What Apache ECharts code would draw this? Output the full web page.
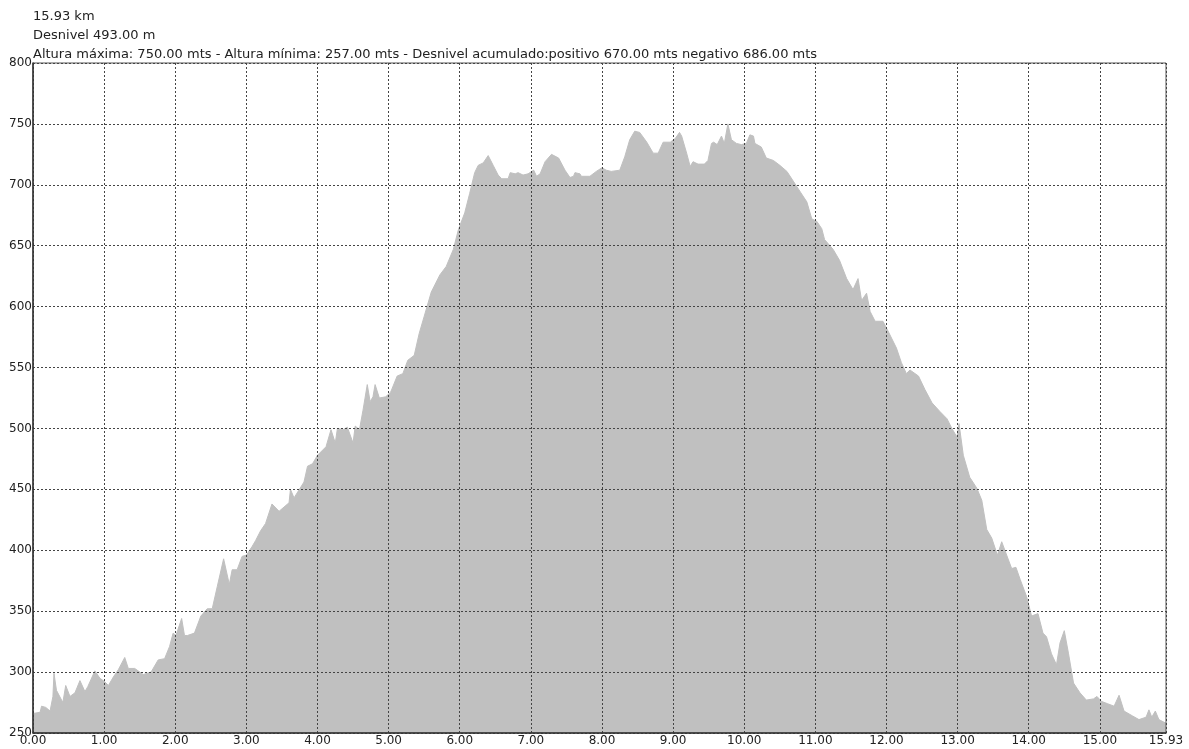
<!DOCTYPE html>
<html>
<head>
<meta charset="utf-8">
<title>Perfil</title>
<script src="https://cdn.jsdelivr.net/npm/echarts@6/dist/echarts.min.js"></script>
<style>
  html, body { margin: 0; padding: 0; background: #fff; }
  #chart { width: 1189px; height: 749px; }
</style>
</head>
<body>
<div id="chart"></div>
<script>
// cabecera del perfil
const headerLines = [
  '15.93 km',
  'Desnivel 493.00 m',
  'Altura máxima: 750.00 mts - Altura mínima: 257.00 mts - Desnivel acumulado:positivo 670.00 mts negativo 686.00 mts'
];

const distKm = [
  0.00, 0.10, 0.12, 0.18, 0.24, 0.28, 0.295, 0.33, 0.42, 0.46, 0.52, 0.59, 0.66, 0.73, 0.77, 0.87, 0.94,
  1.01, 1.06, 1.13, 1.20, 1.29, 1.34, 1.43, 1.55, 1.66, 1.76, 1.85, 1.92, 1.97,
  2.01, 2.09, 2.13, 2.17, 2.27, 2.36, 2.45, 2.52, 2.59, 2.68, 2.76, 2.80, 2.87, 2.94,
  3.00, 3.08, 3.13, 3.20, 3.27, 3.36, 3.46, 3.60, 3.62, 3.67, 3.81, 3.86, 3.93,
  4.00, 4.12, 4.19, 4.25, 4.28, 4.36, 4.42, 4.50, 4.53, 4.59, 4.64, 4.70, 4.74, 4.78, 4.81, 4.87, 4.96,
  5.03, 5.12, 5.20, 5.27, 5.36, 5.43, 5.50, 5.60, 5.72, 5.81, 5.91, 5.98,
  6.07, 6.14, 6.21, 6.26, 6.33, 6.40, 6.47, 6.54, 6.59, 6.68, 6.71, 6.78, 6.82, 6.89, 6.96,
  7.04, 7.08, 7.13, 7.20, 7.29, 7.39, 7.48, 7.55, 7.60, 7.62, 7.69, 7.71, 7.83, 7.92,
  8.00, 8.06, 8.13, 8.25, 8.32, 8.39, 8.46, 8.53, 8.63, 8.72, 8.79, 8.86, 8.96,
  9.03, 9.09, 9.12, 9.19, 9.24, 9.28, 9.35, 9.44, 9.49, 9.54, 9.57, 9.62, 9.68, 9.72, 9.77, 9.82, 9.89, 9.96,
  10.03, 10.08, 10.13, 10.15, 10.24, 10.31, 10.41, 10.50, 10.60, 10.69, 10.79, 10.88, 10.95,
  11.02, 11.09, 11.13, 11.25, 11.34, 11.44, 11.53, 11.60, 11.65, 11.72, 11.77, 11.84, 11.95,
  12.03, 12.14, 12.21, 12.28, 12.33, 12.45, 12.54, 12.64, 12.75, 12.85, 12.92, 12.99,
  13.02, 13.08, 13.17, 13.27, 13.34, 13.41, 13.48, 13.56, 13.62, 13.69, 13.76, 13.82, 13.88, 13.97,
  14.04, 14.13, 14.20, 14.25, 14.32, 14.39, 14.44, 14.50, 14.56, 14.63, 14.72, 14.81, 14.91, 14.96,
  15.02, 15.11, 15.20, 15.27, 15.34, 15.46, 15.55, 15.65, 15.69, 15.73, 15.78, 15.83, 15.93
];
const elevM = [
  266, 267, 272, 271, 268, 280, 299, 285, 275, 289, 280, 283, 293, 284, 288, 301, 295,
  292, 289, 296, 302, 312, 303, 303, 298, 300, 310, 311, 321, 332,
  330, 344, 330, 330, 332, 346, 352, 352, 370, 393, 372, 384, 384, 395,
  396, 403, 408, 416, 422, 438, 432, 439, 450, 443, 456, 469, 471,
  478, 485, 499, 488, 500, 499, 501, 488, 502, 499, 515, 536, 522, 526, 536, 525, 526,
  530, 543, 545, 556, 560, 578, 592, 612, 626, 633, 647, 663,
  677, 693, 710, 716, 718, 724, 716, 708, 705, 705, 710, 709, 710, 708, 709,
  712, 707, 709, 719, 725, 722, 712, 706, 707, 710, 709, 707, 707, 711,
  714, 712, 711, 712, 723, 737, 744, 743, 735, 726, 726, 735, 735,
  738, 743, 740, 726, 715, 719, 717, 717, 720, 734, 735, 733, 740, 734, 750, 737, 734, 733,
  734, 741, 740, 734, 731, 722, 720, 716, 711, 703, 694, 686, 672,
  670, 664, 655, 647, 638, 623, 614, 623, 605, 611, 596, 588, 588,
  579, 566, 554, 545, 548, 543, 532, 521, 514, 508, 500, 493,
  504, 478, 460, 451, 441, 417, 410, 396, 407, 396, 385, 386, 376, 362,
  346, 348, 332, 329, 315, 306, 324, 334, 315, 291, 283, 277, 278, 280,
  276, 274, 272, 281, 268, 264, 261, 263, 269, 263, 268, 261, 258
];

// marcas del eje x
const xTicks = [0, 1, 2, 3, 4, 5, 6, 7, 8, 9, 10, 11, 12, 13, 14, 15, 15.93];

const font = '"DejaVu Sans", "Liberation Sans", sans-serif';
const gridLine = { show: true, lineStyle: { color: '#444', width: 1, type: [2, 2] } };

const chart = echarts.init(document.getElementById('chart'));

const option = {
  backgroundColor: '#fff',
  animation: false,
  title: {
    text: headerLines.join('\n'),
    left: 28,
    top: 2,
    textStyle: { fontFamily: font, fontSize: 13, fontWeight: 'normal', color: '#222', lineHeight: 19 }
  },
  grid: {
    left: 33, right: 23, top: 63, bottom: 16,
    show: true, backgroundColor: 'transparent', borderColor: '#555', borderWidth: 1
  },
  xAxis: {
    type: 'value',
    min: 0,
    max: 15.93,
    interval: 1,
    axisLine: { show: true, lineStyle: { color: '#333', width: 1.5 } },
    axisTick: { show: false },
    splitLine: gridLine,
    axisLabel: {
      customValues: xTicks,
      margin: 2,
      color: '#222',
      fontFamily: font,
      fontSize: 12,
      formatter: v => v.toFixed(2)
    }
  },
  yAxis: {
    type: 'value',
    min: 250,
    max: 800,
    interval: 50,
    axisLine: { show: true, lineStyle: { color: '#333', width: 1.5 } },
    axisTick: { show: false },
    splitLine: gridLine,
    axisLabel: { margin: 1, color: '#222', fontFamily: font, fontSize: 12 }
  },
  series: [{
    type: 'line',
    z: -1,
    silent: true,
    showSymbol: false,
    data: distKm.map((d, i) => [d, elevM[i]]),
    lineStyle: { color: '#c0c0c0', width: 1 },
    areaStyle: { color: '#c0c0c0', opacity: 1, origin: 'start' }
  }]
};

chart.setOption(option);
</script>
</body>
</html>
